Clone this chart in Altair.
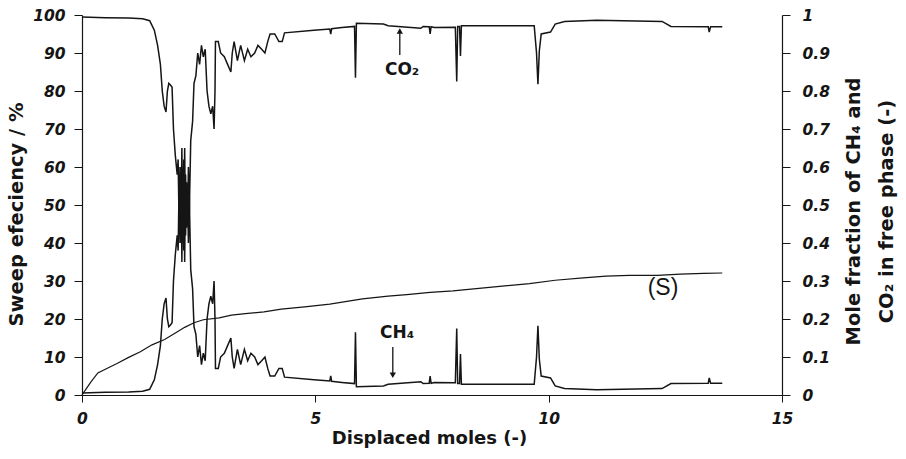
import altair as alt
import pandas as pd

# ---- data ----
x_gas = [0, 0.5, 1.0, 1.3, 1.45, 1.55, 1.62, 1.68, 1.72, 1.76,
         1.80, 1.83, 1.86, 1.90, 1.93, 1.96, 2.00, 2.04, 2.06, 2.08,
         2.10, 2.12, 2.14, 2.16, 2.18, 2.20, 2.22, 2.24, 2.26, 2.28,
         2.30, 2.33, 2.37, 2.40, 2.44, 2.48, 2.52, 2.56, 2.60, 2.64,
         2.68, 2.72, 2.76, 2.80, 2.83, 2.85, 2.86, 2.92, 2.97, 3.05,
         3.12, 3.19, 3.22, 3.26, 3.33, 3.40, 3.48, 3.55, 3.62, 3.70,
         3.77, 3.85, 3.92, 3.98, 4.03, 4.13, 4.22, 4.29, 4.34, 4.97,
         5.31, 5.33, 5.35, 5.57, 5.84, 5.86, 5.88, 6.46, 6.56, 7.26,
         7.31, 7.44, 7.46, 7.48, 7.55, 8.00, 8.03, 8.05, 8.09, 8.11,
         8.13, 9.69, 9.74, 9.77, 9.80, 9.84, 10.04, 10.14, 10.34, 11.03,
         12.43, 12.62, 13.42, 13.44, 13.47, 13.72]

ch4 = [0.995, 0.993, 0.992, 0.99, 0.985, 0.96, 0.92, 0.87, 0.80, 0.76,
       0.745, 0.80, 0.82, 0.815, 0.81, 0.70, 0.63, 0.58, 0.62, 0.45,
       0.60, 0.40, 0.65, 0.42, 0.62, 0.35, 0.58, 0.44, 0.55, 0.40,
       0.52, 0.33, 0.28, 0.18, 0.16, 0.10, 0.13, 0.08, 0.11, 0.09,
       0.20, 0.24, 0.26, 0.24, 0.30, 0.20, 0.07, 0.07, 0.10, 0.11,
       0.13, 0.15, 0.10, 0.07, 0.12, 0.08, 0.12, 0.09, 0.11, 0.10,
       0.08, 0.09, 0.10, 0.07, 0.05, 0.05, 0.07, 0.07, 0.047, 0.04,
       0.037, 0.05, 0.036, 0.033, 0.03, 0.165, 0.022, 0.024, 0.028, 0.035,
       0.030, 0.031, 0.05, 0.031, 0.033, 0.032, 0.175, 0.03, 0.03, 0.108,
       0.028, 0.028, 0.10, 0.182, 0.094, 0.05, 0.045, 0.024, 0.017, 0.014,
       0.017, 0.030, 0.031, 0.045, 0.031, 0.031]

co2 = [0.005, 0.007, 0.008, 0.01, 0.015, 0.04, 0.08, 0.13, 0.20, 0.24,
       0.255, 0.20, 0.18, 0.185, 0.19, 0.30, 0.37, 0.42, 0.38, 0.55,
       0.40, 0.60, 0.35, 0.58, 0.38, 0.65, 0.42, 0.56, 0.45, 0.60,
       0.48, 0.67, 0.72, 0.82, 0.84, 0.90, 0.87, 0.92, 0.89, 0.91,
       0.80, 0.76, 0.74, 0.76, 0.70, 0.80, 0.93, 0.93, 0.90, 0.89,
       0.87, 0.85, 0.90, 0.93, 0.88, 0.92, 0.88, 0.91, 0.89, 0.90,
       0.92, 0.91, 0.90, 0.93, 0.95, 0.95, 0.93, 0.93, 0.953, 0.96,
       0.963, 0.95, 0.964, 0.967, 0.97, 0.835, 0.978, 0.976, 0.972, 0.965,
       0.970, 0.969, 0.95, 0.969, 0.967, 0.968, 0.825, 0.97, 0.97, 0.892,
       0.972, 0.972, 0.90, 0.818, 0.906, 0.95, 0.955, 0.976, 0.983, 0.986,
       0.983, 0.970, 0.969, 0.955, 0.969, 0.969]

x_sweep = [0, 0.1, 0.2, 0.34, 0.5, 0.75, 1.0, 1.25, 1.5, 1.77,
           2.0, 2.2, 2.4, 2.6, 2.94, 3.2, 3.5, 3.9, 4.27, 4.77,
           5.31, 6.01, 6.56, 6.96, 7.46, 7.95, 8.45, 8.95, 9.59, 10.14,
           10.74, 11.23, 11.73, 12.33, 12.82, 13.32, 13.72]
sweep = [0, 1.8, 3.6, 5.8, 6.8, 8.3, 9.9, 11.4, 13.2, 14.6,
         16.3, 17.8, 19.0, 19.8, 20.3, 21.0, 21.4, 21.9, 22.6, 23.2,
         23.9, 25.3, 26.0, 26.4, 27.0, 27.4, 28.0, 28.6, 29.3, 30.2,
         30.8, 31.3, 31.5, 31.5, 31.8, 32.0, 32.1]

# annotation labels
gas_labels = ["CO\u2082", "CH\u2084"]
gas_label_x = [6.86, 6.75]
gas_label_y = [0.855, 0.163]
arrow_x = [6.81, 6.66]
arrow_from = [0.895, 0.126]
arrow_to = [0.958, 0.052]
arrow_shape = ["triangle-up", "triangle-down"]
s_label = ["(S)"]
s_label_x = [12.45]
s_label_y = [28.2]

FONT = "DejaVu Sans"
INK = "#151515"

gas_df = pd.concat([
    pd.DataFrame({"x": x_gas, "y": ch4, "series": "CH4"}),
    pd.DataFrame({"x": x_gas, "y": co2, "series": "CO2"}),
])
s_df = pd.DataFrame({"x": x_sweep, "y": sweep})
lab_df = pd.DataFrame({"x": gas_label_x, "y": gas_label_y, "label": gas_labels})
arr_df = pd.DataFrame({"x": arrow_x, "y": arrow_from, "y2": arrow_to})
head_df = pd.DataFrame({"x": arrow_x, "y": arrow_to, "shape": arrow_shape})
sl_df = pd.DataFrame({"x": s_label_x, "y": s_label_y, "label": s_label})

W, H = 700, 380

x_enc = alt.X("x:Q", scale=alt.Scale(domain=[0, 15], nice=False),
              axis=alt.Axis(values=[0, 5, 10, 15], format="d",
                            title="Displaced moles (-)",
                            tickSize=7, labelPadding=9,
                            titleFontSize=18, titleBaseline="alphabetic",
                            titleY=48, titleX=347))

y_left = alt.Y("y:Q", scale=alt.Scale(domain=[0, 100], nice=False),
               axis=alt.Axis(orient="left", values=list(range(0, 101, 10)),
                             format="d", title="Sweep efeciency / %",
                             tickSize=8, labelPadding=9,
                             titleAngle=270, titleBaseline="top",
                             titleAlign="center", titleX=-75, titleY=199))

right_vals = [0, 0.1, 0.2, 0.3, 0.4, 0.5, 0.6, 0.7, 0.8, 0.9, 1]
y_right = alt.Y("y:Q", scale=alt.Scale(domain=[0, 1], nice=False),
                axis=alt.Axis(orient="right", values=right_vals, format="~g",
                              title=["Mole fraction of CH\u2084 and",
                                     "CO\u2082 in free phase (-)"],
                              tickSize=8, labelPadding=12,
                              titleAngle=270, titleBaseline="top",
                              titleAlign="center", titleLineHeight=33,
                              titleX=62, titleY=196))

s_line = alt.Chart(s_df).mark_line(color=INK, strokeWidth=1.2).encode(x=x_enc, y=y_left)
s_text = alt.Chart(sl_df).mark_text(font="Liberation Sans", fontSize=23, color=INK).encode(
    x=x_enc, y=y_left, text="label:N")
left = alt.layer(s_line, s_text)

gas_lines = alt.Chart(gas_df).mark_line(color=INK, strokeWidth=1.5).encode(
    x=x_enc, y=y_right, detail="series:N")
gas_text = alt.Chart(lab_df).mark_text(font=FONT, fontSize=17, fontWeight="bold",
                                       color=INK).encode(
    x=x_enc, y=y_right, text="label:N")
arrows = alt.Chart(arr_df).mark_rule(color=INK, strokeWidth=1.3).encode(
    x=x_enc, y=y_right, y2="y2:Q")
heads = alt.Chart(head_df).mark_point(filled=True, size=40, color=INK, opacity=1).encode(
    x=x_enc, y=y_right, shape=alt.Shape("shape:N", scale=None))
right = alt.layer(gas_lines, gas_text, arrows, heads)

chart = alt.layer(left, right).resolve_scale(y="independent").properties(
    width=W, height=H,
    padding={"left": 82, "top": 15, "right": 906 - 82 - W, "bottom": 459 - 15 - H},
    autosize=alt.AutoSizeParams(type="none"),
).configure_view(stroke=None).configure_axis(
    grid=False,
    domainColor=INK, domainWidth=1.2,
    tickColor=INK, tickWidth=1,
    labelFont=FONT, labelFontSize=15.5, labelFontWeight="bold",
    labelFontStyle="italic", labelColor=INK,
    labelFlush=False, labelOverlap=False,
    titleFont=FONT, titleFontSize=19.5, titleFontWeight="bold", titleColor=INK,
)

chart.save("out.html", embed_options={"renderer": "svg", "actions": False})
